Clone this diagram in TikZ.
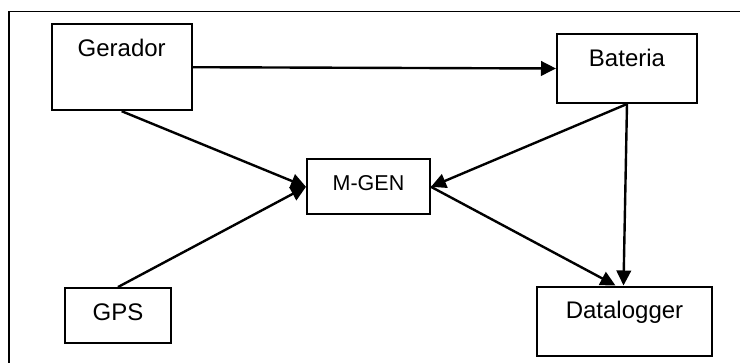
\documentclass[tikz,border=0pt]{standalone}
\usepackage{fontspec}
\setmainfont{Liberation Sans}
\usetikzlibrary{arrows.meta}
\begin{document}
\begin{tikzpicture}[x=1pt,y=-1pt,
  box/.style={draw=black, line width=2pt, fill=white, inner sep=0pt},
  lbl/.style={anchor=base, yshift=-33pt, font=\fontsize{24}{28}\selectfont},
  lblsmall/.style={anchor=base, yshift=-32.5pt, font=\fontsize{21.5}{26}\selectfont},
  flow/.style={line width=2.4pt, -{Triangle[length=15pt,width=14.5pt]}}]
  \useasboundingbox (0,0) rectangle (740,362);
  % outer frame, open towards the right and bottom edges
  \draw[line width=1.4pt] (9,380) -- (9,11.3) -- (760,11.3);
  % blocks
  \node[box, minimum width=140pt, minimum height=86pt,
        label={[lbl]north:Gerador}] (gerador) at (121.7,67.2) {};
  \node[box, minimum width=140pt, minimum height=69pt,
        label={[lbl]north:Bateria}] (bateria) at (627,68.5) {};
  \node[box, minimum width=123pt, minimum height=55pt,
        label={[lblsmall]north:M-GEN}] (mgen) at (368.5,186.8) {};
  \node[box, minimum width=106pt, minimum height=54.5pt,
        label={[lbl]north:GPS}] (gps) at (118,315.3) {};
  \node[box, minimum width=175pt, minimum height=69pt,
        label={[lbl]north:Datalogger}] (datalogger) at (624.5,321) {};
  % connections
  \draw[flow] (gerador.east) -- (bateria.west);
  \draw[flow] (gerador.south) -- (mgen.west);
  \draw[flow] (gps.north) -- (mgen.west);
  \draw[flow] (bateria.south) -- (mgen.east);
  \draw[flow] (bateria.south) -- ([xshift=-1pt]datalogger.north);
  \draw[flow] (mgen.east) -- ([xshift=-9pt]datalogger.north);
\end{tikzpicture}
\end{document}
